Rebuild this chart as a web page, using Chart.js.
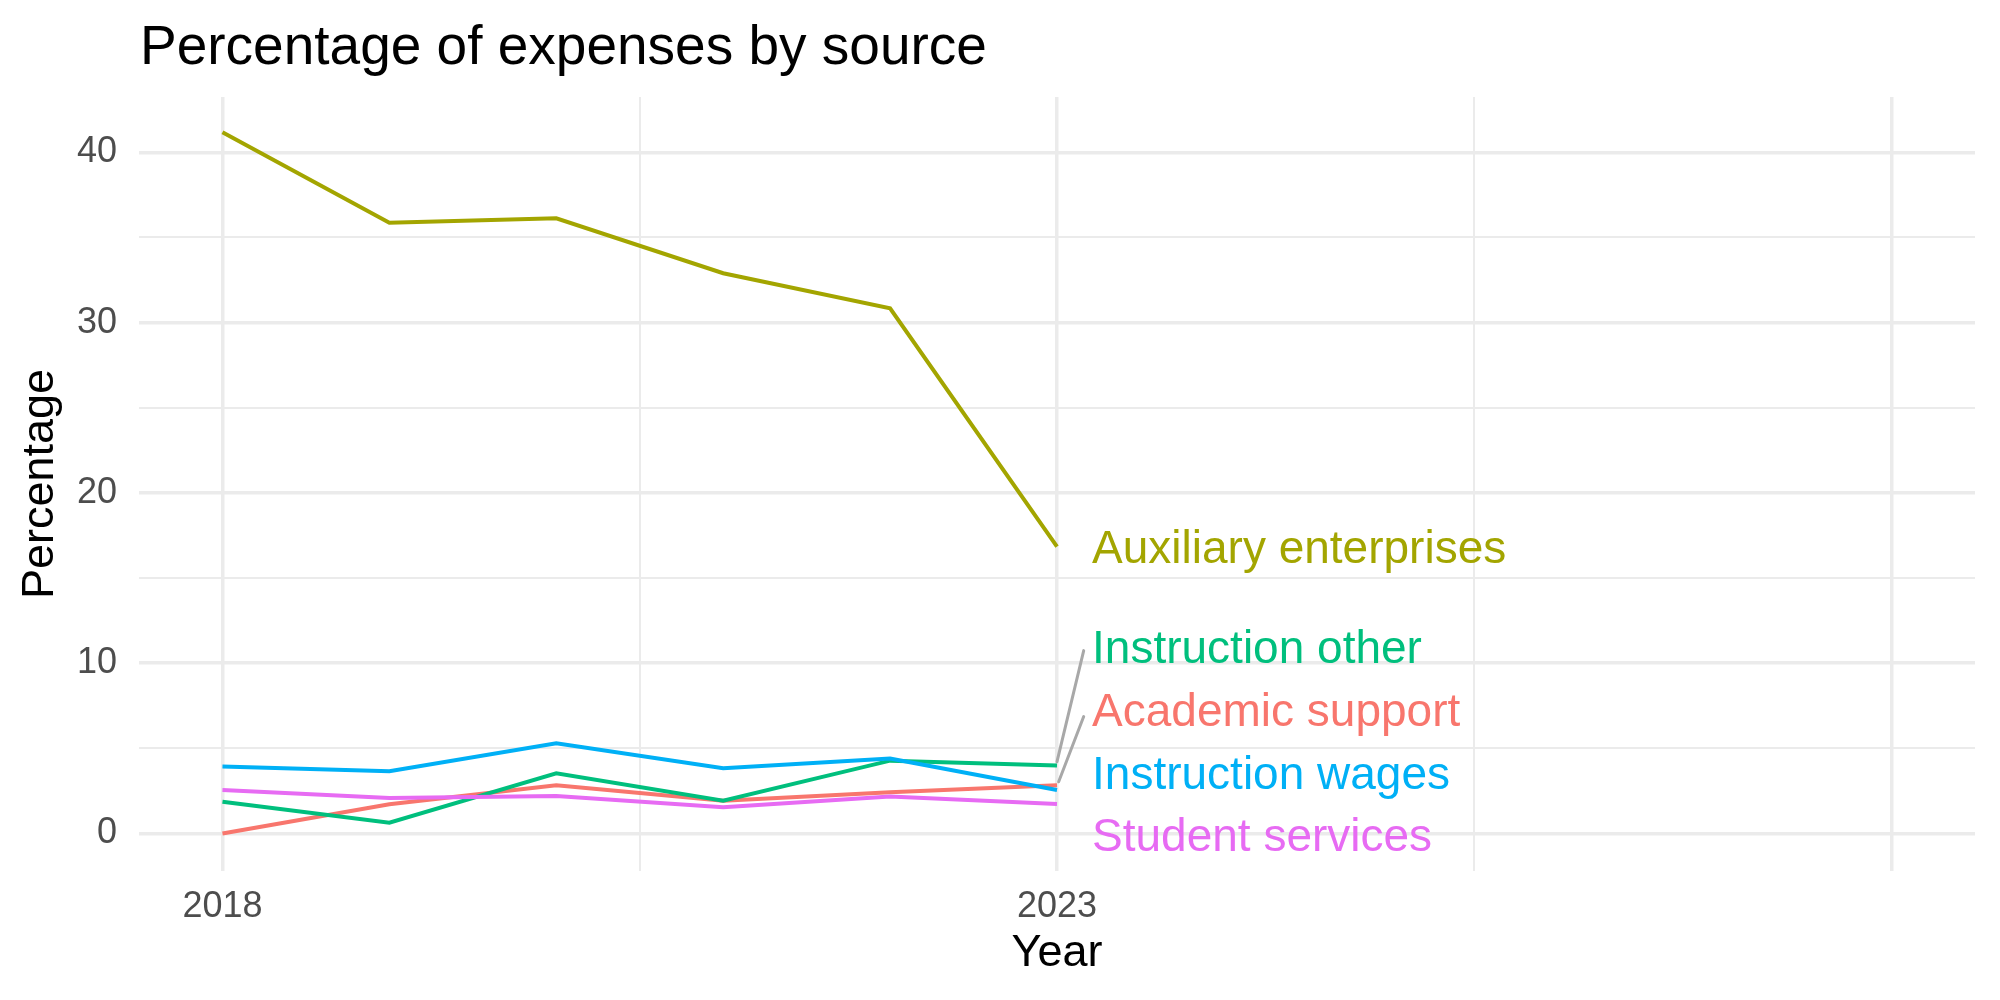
<!DOCTYPE html>
<html>
<head>
<meta charset="utf-8">
<script src="https://cdn.jsdelivr.net/npm/chart.js@4"></script>
<style>
  html, body { margin: 0; padding: 0; background: #ffffff; }
  #wrap { width: 2000px; height: 1000px; }
</style>
</head>
<body>
<div id="wrap"><canvas id="expenses" width="2000" height="1000"></canvas></div>
<script>
// data
const years = [2018, 2019, 2020, 2021, 2022, 2023];
const seriesNames = ["Academic support", "Auxiliary enterprises", "Instruction other", "Instruction wages", "Student services"];
const academicSupport = [0.0, 1.72, 2.84, 1.93, 2.42, 2.84];
const auxiliaryEnterprises = [41.18, 35.87, 36.13, 32.9, 30.84, 16.85];
const instructionOther = [1.87, 0.64, 3.54, 1.93, 4.28, 4.0];
const instructionWages = [3.93, 3.66, 5.3, 3.83, 4.4, 2.56];
const studentServices = [2.56, 2.09, 2.21, 1.54, 2.17, 1.74];
const seriesColors = ["#F8766D", "#A3A500", "#00BF7D", "#00B0F6", "#E76BF3"];

// tick labels
const xTickLabels = [2018, 2023];
const xGridLines = [2018, 2020.5, 2023, 2025.5, 2028];
const yTickLabels = [0, 10, 20, 30, 40];
const yGridLines = [0, 5, 10, 15, 20, 25, 30, 35, 40];

// repelled end labels (data units)
const labelX = 2023.21;
const labelY = [7.05, 16.65, 10.75, 3.35, -0.3];
// connector segments for labels pushed away from their line end
const segFromX = [2023.01, 2023.0];
const segFromY = [3.04, 4.22];
const segToX = [2023.16, 2023.16];
const segToY = [6.87, 10.74];

const allValues = [academicSupport, auxiliaryEnterprises, instructionOther, instructionWages, studentServices];

const FONT = "'Liberation Sans', Arial, Helvetica, sans-serif";

const datasets = seriesNames.map(function (name, i) {
    return {
        label: name,
        data: years.map(function (y, j) { return { x: y, y: allValues[i][j] }; }),
        borderColor: seriesColors[i],
        backgroundColor: seriesColors[i],
        borderWidth: 4,
        pointRadius: 0,
        tension: 0,
        order: seriesNames.length - i
    };
});

const annotations = {
    id: "annotations",
    afterDatasetsDraw: function (chart) {
        const ctx = chart.ctx;
        const xs = chart.scales.x;
        const ys = chart.scales.y;
        ctx.save();
        ctx.strokeStyle = "#A8A8A8";
        ctx.lineWidth = 3;
        ctx.lineCap = "round";
        for (let i = 0; i < segFromX.length; i++) {
            ctx.beginPath();
            ctx.moveTo(xs.getPixelForValue(segFromX[i]), ys.getPixelForValue(segFromY[i]));
            ctx.lineTo(xs.getPixelForValue(segToX[i]), ys.getPixelForValue(segToY[i]));
            ctx.stroke();
        }
        ctx.font = "46px " + FONT;
        ctx.textAlign = "left";
        ctx.textBaseline = "middle";
        for (let i = 0; i < seriesNames.length; i++) {
            ctx.fillStyle = seriesColors[i];
            ctx.fillText(seriesNames[i], xs.getPixelForValue(labelX), ys.getPixelForValue(labelY[i]));
        }
        ctx.restore();
    },
    afterDraw: function (chart) {
        const ctx = chart.ctx;
        ctx.save();
        ctx.font = "55px " + FONT;
        ctx.fillStyle = "#000000";
        ctx.textAlign = "left";
        ctx.textBaseline = "alphabetic";
        ctx.fillText("Percentage of expenses by source", chart.chartArea.left + 1, 64);
        ctx.restore();
    }
};

new Chart(document.getElementById("expenses"), {
    type: "line",
    data: { datasets: datasets },
    options: {
        responsive: false,
        animation: false,
        devicePixelRatio: 1,
        layout: { padding: { top: 97, right: 25, bottom: 0, left: 0 } },
        plugins: {
            legend: { display: false },
            tooltip: { enabled: false }
        },
        scales: {
            x: {
                type: "linear",
                min: 2017.5,
                max: 2028.5,
                border: { display: false },
                afterBuildTicks: function (scale) {
                    scale.ticks = xGridLines.map(function (v) { return { value: v }; });
                },
                afterFit: function (scale) { scale.height = 129; },
                grid: {
                    drawTicks: false,
                    color: "#EBEBEB",
                    lineWidth: function (c) {
                        return xTickLabels.indexOf(c.tick.value) >= 0 || c.tick.value === 2028 ? 3.5 : 2;
                    }
                },
                ticks: {
                    autoSkip: false,
                    maxRotation: 0,
                    padding: 14,
                    color: "#4D4D4D",
                    font: { family: FONT, size: 36 },
                    callback: function (v) { return xTickLabels.indexOf(v) >= 0 ? String(v) : ""; }
                },
                title: {
                    display: true,
                    text: "Year",
                    color: "#000000",
                    font: { family: FONT, size: 45 },
                    padding: { top: 0, bottom: 19 }
                }
            },
            y: {
                type: "linear",
                min: -2.2,
                max: 43.25,
                border: { display: false },
                afterBuildTicks: function (scale) {
                    scale.ticks = yGridLines.map(function (v) { return { value: v }; });
                },
                afterFit: function (scale) { scale.width = 139; },
                grid: {
                    drawTicks: false,
                    color: "#EBEBEB",
                    lineWidth: function (c) {
                        return yTickLabels.indexOf(c.tick.value) >= 0 ? 3.5 : 2;
                    }
                },
                ticks: {
                    autoSkip: false,
                    padding: 22,
                    color: "#4D4D4D",
                    font: { family: FONT, size: 36 },
                    callback: function (v) { return yTickLabels.indexOf(v) >= 0 ? String(v) : ""; }
                },
                title: {
                    display: true,
                    text: "Percentage",
                    color: "#000000",
                    font: { family: FONT, size: 45 },
                    padding: { top: 14, bottom: 0 }
                }
            }
        }
    },
    plugins: [annotations]
});
</script>
</body>
</html>
